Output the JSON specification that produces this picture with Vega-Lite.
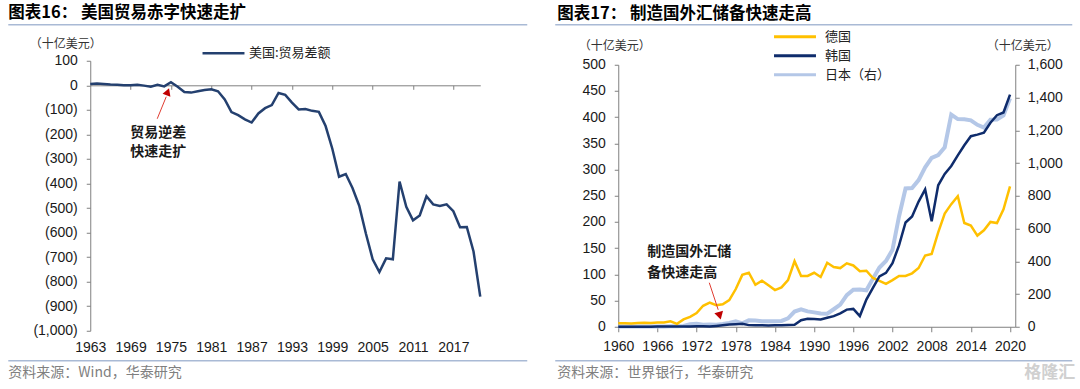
{
"$schema":"https://vega.github.io/schema/vega-lite/v6.json",
"bounds":"flush",
"center":true,
"spacing":138,
"padding":{"left":7.25,"top":4.75,"right":0,"bottom":0},
"resolve":{"scale":{"color":"independent"}},
"config":{
 "view":{"stroke":null},
 "axis":{"grid":false,"labelFont":"Liberation Sans","labelFontSize":14,"labelColor":"#1a1a1a","domainColor":"#808080","tickColor":"#808080","domainWidth":1,"tickWidth":1,"titleFont":"Noto Sans CJK SC","titleFontSize":12,"titleFontWeight":"normal","titleColor":"#333333"},
 "legend":{"labelFont":"Noto Sans CJK SC","labelFontSize":13,"labelColor":"#222222"},
 "title":{"font":"Noto Sans CJK SC","fontSize":16.5,"fontWeight":"bold","color":"#000000","anchor":"start","frame":"group","offset":2}
},
"datasets":{
 "one":[{}],
 "us":[
  {"year":1963,"value":5.2},{"year":1964,"value":7.0},{"year":1965,"value":5.3},{"year":1966,"value":3.0},{"year":1967,"value":2.6},{"year":1968,"value":0.3},{"year":1969,"value":0.1},{"year":1970,"value":2.3},{"year":1971,"value":-1.3},{"year":1972,"value":-5.4},{"year":1973,"value":1.9},{"year":1974,"value":-4.3},{"year":1975,"value":12.4},{"year":1976,"value":-6.1},{"year":1977,"value":-27.2},{"year":1978,"value":-29.8},{"year":1979,"value":-24.6},{"year":1980,"value":-19.4},{"year":1981,"value":-16.2},{"year":1982,"value":-24.2},{"year":1983,"value":-57.8},{"year":1984,"value":-109.1},{"year":1985,"value":-121.9},{"year":1986,"value":-138.5},{"year":1987,"value":-151.7},{"year":1988,"value":-114.6},{"year":1989,"value":-93.1},{"year":1990,"value":-80.9},{"year":1991,"value":-31.1},{"year":1992,"value":-39.2},{"year":1993,"value":-70.3},{"year":1994,"value":-98.5},{"year":1995,"value":-96.4},{"year":1996,"value":-104.1},{"year":1997,"value":-108.3},{"year":1998,"value":-166.1},{"year":1999,"value":-258.6},{"year":2000,"value":-372.5},{"year":2001,"value":-361.5},{"year":2002,"value":-418.2},{"year":2003,"value":-490.5},{"year":2004,"value":-605.0},{"year":2005,"value":-708.6},{"year":2006,"value":-761},{"year":2007,"value":-705},{"year":2008,"value":-709},{"year":2009,"value":-392},{"year":2010,"value":-495},{"year":2011,"value":-550},{"year":2012,"value":-530},{"year":2013,"value":-452},{"year":2014,"value":-485},{"year":2015,"value":-492},{"year":2016,"value":-485},{"year":2017,"value":-513},{"year":2018,"value":-578},{"year":2019,"value":-577},{"year":2020,"value":-677},{"year":2021,"value":-861}
 ],
 "fx":[
  {"year":1960,"de":6.5,"kr":0.16,"jp":1.95},{"year":1961,"de":6.6,"kr":0.21,"jp":1.67},{"year":1962,"de":6.3,"kr":0.17,"jp":2.02},{"year":1963,"de":7.2,"kr":0.13,"jp":2.06},{"year":1964,"de":7.6,"kr":0.14,"jp":2.02},{"year":1965,"de":7.2,"kr":0.15,"jp":2.15},{"year":1966,"de":7.9,"kr":0.25,"jp":2.12},{"year":1967,"de":8.1,"kr":0.36,"jp":2.03},{"year":1968,"de":10.5,"kr":0.39,"jp":2.91},{"year":1969,"de":5.5,"kr":0.55,"jp":3.65},
  {"year":1970,"de":14,"kr":0.61,"jp":4.84},{"year":1971,"de":19,"kr":0.57,"jp":15.36},{"year":1972,"de":26,"kr":0.74,"jp":18.37},{"year":1973,"de":40,"kr":1.09,"jp":12.25},{"year":1974,"de":46,"kr":0.28,"jp":13.52},{"year":1975,"de":41,"kr":1.55,"jp":12.82},{"year":1976,"de":43,"kr":2.97,"jp":16.6},{"year":1977,"de":51,"kr":4.31,"jp":23.26},{"year":1978,"de":72,"kr":4.94,"jp":33.47},{"year":1979,"de":99,"kr":5.71,"jp":20.61},
  {"year":1980,"de":103,"kr":3.10,"jp":38.9},{"year":1981,"de":80,"kr":2.83,"jp":37.8},{"year":1982,"de":88,"kr":2.93,"jp":33.0},{"year":1983,"de":79,"kr":2.39,"jp":33.8},{"year":1984,"de":70,"kr":2.97,"jp":33.9},{"year":1985,"de":75,"kr":2.87,"jp":35.5},{"year":1986,"de":89,"kr":3.32,"jp":51.7},{"year":1987,"de":125,"kr":3.58,"jp":92.7},{"year":1988,"de":97,"kr":12.38,"jp":106.7},{"year":1989,"de":97,"kr":15.25,"jp":93.7},
  {"year":1990,"de":103,"kr":14.82,"jp":87.8},{"year":1991,"de":95,"kr":13.73,"jp":80.6},{"year":1992,"de":122,"kr":17.15,"jp":79.7},{"year":1993,"de":114,"kr":20.26,"jp":107.0},{"year":1994,"de":112,"kr":25.67,"jp":135.1},{"year":1995,"de":121,"kr":32.68,"jp":192.6},{"year":1996,"de":117,"kr":34.04,"jp":225.6},{"year":1997,"de":106,"kr":20.37,"jp":227.0},{"year":1998,"de":107,"kr":51.96,"jp":222.4},{"year":1999,"de":93,"kr":73.99,"jp":293.9},
  {"year":2000,"de":87.5,"kr":96.13,"jp":361.6},{"year":2001,"de":82,"kr":102.75,"jp":401.9},{"year":2002,"de":89,"kr":121.35,"jp":469.6},{"year":2003,"de":97,"kr":155.28,"jp":673.6},{"year":2004,"de":97,"kr":199.0,"jp":844.7},{"year":2005,"de":102,"kr":210.39,"jp":846.9},{"year":2006,"de":112,"kr":238.88,"jp":895.3},{"year":2007,"de":136,"kr":262.15,"jp":973.3},{"year":2008,"de":139,"kr":201.14,"jp":1030.8},{"year":2009,"de":180,"kr":270.0,"jp":1048.9},
  {"year":2010,"de":216,"kr":291.57,"jp":1096.1},{"year":2011,"de":234,"kr":306.94,"jp":1295.8},{"year":2012,"de":249,"kr":326.97,"jp":1268.1},{"year":2013,"de":198,"kr":346.46,"jp":1266.8},{"year":2014,"de":193,"kr":363.59,"jp":1260.5},{"year":2015,"de":174,"kr":366.67,"jp":1233.1},{"year":2016,"de":184,"kr":370.26,"jp":1216.9},{"year":2017,"de":200,"kr":389.27,"jp":1264.3},{"year":2018,"de":198,"kr":403.69,"jp":1266},{"year":2019,"de":224,"kr":408.82,"jp":1290},{"year":2020,"de":268,"kr":443.07,"jp":1394.7}
 ]
},
"hconcat":[
 {
  "width":390,"height":270,
  "title":{"text":"图表16：  美国贸易赤字快速走扩","dx":-82},
  "resolve":{"axis":{"x":"independent","y":"independent"}},
  "layer":[
   {"data":{"name":"one"},"mark":{"type":"rule","color":"#A9BAD5","strokeWidth":1.5,"clip":false},
    "encoding":{"x":{"datum":1950.81,"type":"quantitative","scale":{"domain":[1963,2021],"nice":false,"zero":false},"axis":null},"x2":{"datum":2027.99},"y":{"datum":246.7,"type":"quantitative","scale":{"domain":[-1000,100],"nice":false,"zero":false},"axis":null}}},
   {"data":{"name":"one"},"mark":{"type":"rule","color":"#A9BAD5","strokeWidth":1.5,"clip":false},
    "encoding":{"x":{"datum":1950.81,"type":"quantitative","scale":{"domain":[1963,2021],"nice":false,"zero":false},"axis":null},"x2":{"datum":2027.99},"y":{"datum":-1122.2,"type":"quantitative","scale":{"domain":[-1000,100],"nice":false,"zero":false},"axis":null}}},
   {"data":{"name":"one"},"mark":{"type":"text","text":"资料来源：Wind，华泰研究","align":"left","baseline":"middle","font":"Noto Sans CJK SC","fontSize":14,"color":"#808080","clip":false},
    "encoding":{"x":{"datum":1950.81,"type":"quantitative","scale":{"domain":[1963,2021],"nice":false,"zero":false},"axis":null},"y":{"datum":-1171.1,"type":"quantitative","scale":{"domain":[-1000,100],"nice":false,"zero":false},"axis":null}}},
   {"data":{"name":"us"},"mark":{"type":"line","strokeWidth":2.5},
    "encoding":{
     "x":{"field":"year","type":"quantitative","scale":{"domain":[1963,2021],"nice":false,"zero":false},"axis":{"orient":"bottom","values":[1963,1969,1975,1981,1987,1993,1999,2005,2011,2017],"format":"d","domain":false,"ticks":false,"labelPadding":10,"labelFlush":false,"labelOverlap":false,"title":null}},
     "y":{"field":"value","type":"quantitative","scale":{"domain":[-1000,100],"nice":false,"zero":false},"axis":{"orient":"left","values":[-1000,-900,-800,-700,-600,-500,-400,-300,-200,-100,0,100],"labelExpr":"datum.value < 0 ? '(' + format(-datum.value, ',') + ')' : format(datum.value, ',')","tickSize":4,"labelPadding":9,"labelOverlap":false,"title":"（十亿美元）","titleAngle":0,"titleX":-25,"titleY":-17,"titleAlign":"center","titleBaseline":"middle"}},
     "color":{"datum":"美国:贸易差额","type":"nominal","scale":{"domain":["美国:贸易差额"],"range":["#24406F"]},"legend":{"title":null,"orient":"none","legendX":126.75,"legendY":-14,"symbolType":"M-4,0H4","symbolSize":110,"symbolStrokeWidth":2.5,"labelOffset":19}}}},
   {"data":{"name":"one"},"mark":{"type":"rule","color":"#E03C31","strokeWidth":1},
    "encoding":{"x":{"datum":1972.96,"type":"quantitative","scale":{"domain":[1963,2021],"nice":false,"zero":false},"axis":{"orient":"bottom","offset":-245.45,"values":[1969,1975,1981,1987,1993,1999,2005,2011,2017],"labels":false,"ticks":true,"tickSize":4,"domain":true,"title":null}},"x2":{"datum":1974.30},"y":{"datum":-136.3,"type":"quantitative","scale":{"domain":[-1000,100],"nice":false,"zero":false},"axis":null},"y2":{"datum":-46.7}}},
   {"data":{"name":"one"},"mark":{"type":"point","shape":"triangle-up","angle":21,"size":70,"filled":true,"color":"#C00000","opacity":1},
    "encoding":{"x":{"datum":1974.53,"type":"quantitative","scale":{"domain":[1963,2021],"nice":false,"zero":false},"axis":null},"y":{"datum":-26.3,"type":"quantitative","scale":{"domain":[-1000,100],"nice":false,"zero":false},"axis":null}}},
   {"data":{"name":"one"},"mark":{"type":"text","text":["贸易逆差","快速走扩"],"lineHeight":19,"align":"left","baseline":"top","font":"Noto Sans CJK SC","fontSize":14,"fontWeight":"bold","color":"#1a1a1a"},
    "encoding":{"x":{"datum":1968.95,"type":"quantitative","scale":{"domain":[1963,2021],"nice":false,"zero":false},"axis":null},"y":{"datum":-164.8,"type":"quantitative","scale":{"domain":[-1000,100],"nice":false,"zero":false},"axis":null}}}
  ]
 },
 {
  "width":397,"height":262,
  "title":{"text":"图表17：  制造国外汇储备快速走高","dx":-61},
  "resolve":{"scale":{"y":"independent"},"axis":{"x":"independent","y":"independent"}},
  "layer":[
   {"data":{"name":"fx"},"mark":{"type":"line","strokeWidth":4},
    "encoding":{
     "x":{"field":"year","type":"quantitative","scale":{"domain":[1960,2020.8],"nice":false,"zero":false},"axis":{"orient":"bottom","values":[1960,1966,1972,1978,1984,1990,1996,2002,2008,2014,2020],"format":"d","tickSize":5,"labelPadding":8,"labelFlush":false,"labelOverlap":false,"title":null}},
     "y":{"field":"jp","type":"quantitative","scale":{"domain":[0,1600],"nice":false,"zero":false},"axis":{"orient":"right","values":[0,200,400,600,800,1000,1200,1400,1600],"format":",d","tickSize":4,"labelPadding":8,"labelOverlap":false,"title":"（十亿美元）","titleAngle":0,"titleX":7,"titleY":-19,"titleAlign":"center","titleBaseline":"middle"}},
     "color":{"datum":"日本（右）","type":"nominal","scale":{"domain":["德国","韩国","日本（右）"],"range":["#FFC000","#0F2C6C","#B4C7E7"]},"legend":{"title":null,"orient":"none","legendX":169.75,"legendY":-35,"symbolType":"M-4,0H4","symbolSize":110,"symbolStrokeWidth":3,"labelOffset":23,"rowPadding":5}}}},
   {"resolve":{"axis":{"x":"independent","y":"independent"}},
    "layer":[
     {"data":{"name":"one"},"mark":{"type":"rule","color":"#A9BAD5","strokeWidth":1.5,"clip":false},
      "encoding":{"x":{"datum":1950.35,"type":"quantitative","scale":{"domain":[1960,2020.8],"nice":false,"zero":false},"axis":null},"x2":{"datum":2029.53},"y":{"datum":576.3,"type":"quantitative","scale":{"domain":[0,500],"nice":false,"zero":false},"axis":null}}},
     {"data":{"name":"one"},"mark":{"type":"rule","color":"#A9BAD5","strokeWidth":1.5,"clip":false},
      "encoding":{"x":{"datum":1950.35,"type":"quantitative","scale":{"domain":[1960,2020.8],"nice":false,"zero":false},"axis":null},"x2":{"datum":2029.53},"y":{"datum":-64.9,"type":"quantitative","scale":{"domain":[0,500],"nice":false,"zero":false},"axis":null}}},
     {"data":{"name":"one"},"mark":{"type":"text","text":"资料来源：世界银行，华泰研究","align":"left","baseline":"middle","font":"Noto Sans CJK SC","fontSize":14,"color":"#808080","clip":false},
      "encoding":{"x":{"datum":1950.66,"type":"quantitative","scale":{"domain":[1960,2020.8],"nice":false,"zero":false},"axis":null},"y":{"datum":-87.8,"type":"quantitative","scale":{"domain":[0,500],"nice":false,"zero":false},"axis":null}}},
     {"data":{"name":"one"},"mark":{"type":"text","text":"格隆汇","align":"right","baseline":"middle","font":"Noto Sans CJK SC","fontSize":17,"fontWeight":"bold","color":"#d0d0d0","clip":false},
      "encoding":{"x":{"datum":2029.99,"type":"quantitative","scale":{"domain":[1960,2020.8],"nice":false,"zero":false},"axis":null},"y":{"datum":-87.8,"type":"quantitative","scale":{"domain":[0,500],"nice":false,"zero":false},"axis":null}}},
     {"data":{"name":"fx"},"mark":{"type":"line","strokeWidth":2.5},
      "encoding":{
       "x":{"field":"year","type":"quantitative","scale":{"domain":[1960,2020.8],"nice":false,"zero":false},"axis":null},
       "y":{"field":"de","type":"quantitative","scale":{"domain":[0,500],"nice":false,"zero":false},"axis":{"orient":"left","values":[0,50,100,150,200,250,300,350,400,450,500],"tickSize":4,"labelPadding":9,"labelOverlap":false,"title":"（十亿美元）","titleAngle":0,"titleX":-4,"titleY":-19,"titleAlign":"center","titleBaseline":"middle"}},
       "color":{"datum":"德国","type":"nominal","scale":{"domain":["德国","韩国","日本（右）"],"range":["#FFC000","#0F2C6C","#B4C7E7"]},"legend":null}}},
     {"data":{"name":"fx"},"mark":{"type":"line","strokeWidth":2.5},
      "encoding":{
       "x":{"field":"year","type":"quantitative","scale":{"domain":[1960,2020.8],"nice":false,"zero":false},"axis":null},
       "y":{"field":"kr","type":"quantitative","scale":{"domain":[0,500],"nice":false,"zero":false},"axis":null},
       "color":{"datum":"韩国","type":"nominal","scale":{"domain":["德国","韩国","日本（右）"],"range":["#FFC000","#0F2C6C","#B4C7E7"]},"legend":null}}},
     {"data":{"name":"one"},"mark":{"type":"rule","color":"#E03C31","strokeWidth":1},
      "encoding":{"x":{"datum":1973.94,"type":"quantitative","scale":{"domain":[1960,2020.8],"nice":false,"zero":false},"axis":null},"x2":{"datum":1975.31},"y":{"datum":84.0,"type":"quantitative","scale":{"domain":[0,500],"nice":false,"zero":false},"axis":null},"y2":{"datum":32.4}}},
     {"data":{"name":"one"},"mark":{"type":"point","shape":"triangle-down","angle":-15,"size":80,"filled":true,"color":"#C00000","opacity":1},
      "encoding":{"x":{"datum":1975.54,"type":"quantitative","scale":{"domain":[1960,2020.8],"nice":false,"zero":false},"axis":null},"y":{"datum":21.0,"type":"quantitative","scale":{"domain":[0,500],"nice":false,"zero":false},"axis":null}}},
     {"data":{"name":"one"},"mark":{"type":"text","text":["制造国外汇储","备快速走高"],"lineHeight":21,"align":"left","baseline":"top","font":"Noto Sans CJK SC","fontSize":14,"fontWeight":"bold","color":"#1a1a1a"},
      "encoding":{"x":{"datum":1964.44,"type":"quantitative","scale":{"domain":[1960,2020.8],"nice":false,"zero":false},"axis":null},"y":{"datum":156.5,"type":"quantitative","scale":{"domain":[0,500],"nice":false,"zero":false},"axis":null}}}
   ]}
  ]
 }
]
}
